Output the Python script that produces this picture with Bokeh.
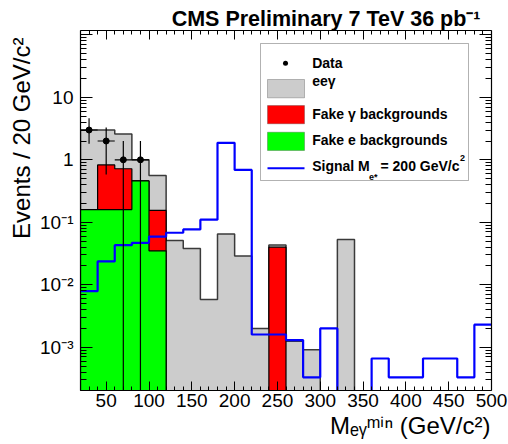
import numpy as np
from bokeh.plotting import figure
from bokeh.models import (Range1d, FixedTicker, LinearAxis, LogAxis, Label, Title,
                          BoxAnnotation, CustomJSTickFormatter)
from bokeh.embed import file_html
from bokeh.resources import INLINE

# ---------------- data ----------------
bin_low = [20, 40, 60, 80, 100, 120, 140, 160, 180, 200, 220, 240,
           260, 280, 300, 320, 340, 360, 380, 400, 420, 440, 460, 480]
bin_width = 20
eeg = [2.84, 2.17, 1.88, 0.54, 0.405, 0.051, 0.038, 0.0058, 0.065, 0.029, 0.002, 0.0035,
       0.00125, 0.00091, 0.0, 0.053, 0, 0, 0, 0, 0, 0, 0, 0]
fake_gamma = [0.0, 0.67, 0.56, 0.0, 0.12, 0, 0, 0, 0, 0, 0, 0.040,
              0, 0, 0, 0, 0, 0, 0, 0, 0, 0, 0, 0]
fake_e = [0.16, 0.16, 0.16, 0.46, 0.035, 0, 0, 0, 0, 0, 0, 0,
          0, 0, 0, 0, 0, 0, 0, 0, 0, 0, 0, 0]
signal = [0.0079, 0.0236, 0.043, 0.047, 0.059, 0.068, 0.077, 0.11, 1.87, 0.69, 0.0016, 0.0016,
          0.0013, 0.00033, 0.0020, 0.0, 0.0, 0.00066, 0.00033, 0.00033, 0.00066, 0.00066, 0.00033, 0.0023]
data_x = [30, 50, 70, 90]
data_y = [3, 2, 1, 1]
data_bar_low = [1.8, 0.58, 0.0, 0.0]
data_bar_high = [4.63, 3.3, 2.0, 2.0]

x_major = [50, 100, 150, 200, 250, 300, 350, 400, 450, 500]
y_major = [1e-3, 1e-2, 1e-1, 1, 10, 100]

FLOOR = 1e-7
FONT = "Liberation Sans"

# ---------------- figure ----------------
p = figure(frame_width=411, frame_height=360, y_axis_type="log",
           x_range=Range1d(20, 500), y_range=Range1d(2.03e-4, 117.5),
           output_backend="svg", toolbar_location=None,
           min_border_left=80, min_border_right=17, min_border_top=30, min_border_bottom=54)
p.xgrid.visible = False
p.ygrid.visible = False
p.outline_line_color = None
p.background_fill_color = "white"
p.border_fill_color = "white"

lo = np.array(bin_low, dtype=float)
hi = lo + bin_width


def step_outline(vals, closed=True):
    xs, ys = ([lo[0]], [FLOOR]) if closed else ([], [])
    for a, b, v in zip(lo, hi, vals):
        v = v if v > 0 else FLOOR
        xs += [a, b]
        ys += [v, v]
    if closed:
        xs.append(hi[-1])
        ys.append(FLOOR)
    return xs, ys


e_arr = np.array(fake_e)
g_arr = np.array(fake_gamma)
total = np.array(eeg) + g_arr + e_arr
red_top = g_arr + e_arr

xs, ys = step_outline(total)
p.patch(xs, ys, fill_color="#cccccc", line_color="#3a3a3a", line_width=1.5)
xs, ys = step_outline(red_top)
p.patch(xs, ys, fill_color="#ff0000", line_color="black", line_width=1.2)
xs, ys = step_outline(e_arr)
p.patch(xs, ys, fill_color="#00ff00", line_color="black", line_width=1.2)

xs, ys = step_outline(signal, closed=False)
p.line(xs, ys, line_color="#0000ff", line_width=2.2)

dx = np.array(data_x, dtype=float)
dl = np.where(np.array(data_bar_low) > 0, data_bar_low, 1e-9)
p.segment(x0=dx, x1=dx, y0=dl, y1=data_bar_high, line_color="black", line_width=1.2)
p.segment(x0=dx - bin_width / 2, x1=dx + bin_width / 2, y0=data_y, y1=data_y,
          line_color="black", line_width=1.2)
p.scatter(dx, data_y, size=6, color="black")

# ---------------- axes ----------------
x_minor = [v for v in range(20, 501, 10) if v not in x_major]
y_minor = [k * 10.0 ** d for d in range(-4, 3) for k in range(2, 10)]
xt = FixedTicker(ticks=x_major, minor_ticks=x_minor)
yt = FixedTicker(ticks=y_major, minor_ticks=y_minor)

ylabfmt = CustomJSTickFormatter(code="""
const e = Math.round(Math.log10(tick));
if (e == 0) return "1";
if (e == 1) return "10";
if (e == -1) return "10\u207b\u00b9";
if (e == -2) return "10\u207b\u00b2";
if (e == -3) return "10\u207b\u00b3";
return "";
""")
blankfmt = CustomJSTickFormatter(code='return "";')

bottom_ax = p.below[0]
left_ax = p.left[0]
bottom_ax.ticker = xt
left_ax.ticker = yt
left_ax.formatter = ylabfmt

top_ax = LinearAxis(ticker=xt, formatter=blankfmt)
right_ax = LogAxis(ticker=yt, formatter=blankfmt)
p.add_layout(top_ax, "above")
p.add_layout(right_ax, "right")

for ax in [bottom_ax, top_ax]:
    ax.major_tick_in = 9
    ax.major_tick_out = 0
    ax.minor_tick_in = 4
    ax.minor_tick_out = 0
for ax in [left_ax, right_ax]:
    ax.major_tick_in = 12
    ax.major_tick_out = 0
    ax.minor_tick_in = 6
    ax.minor_tick_out = 0
for ax in [bottom_ax, top_ax, left_ax, right_ax]:
    ax.axis_line_color = "black"
    ax.axis_line_width = 1.2
    ax.major_tick_line_color = "black"
    ax.minor_tick_line_color = "black"
    ax.major_label_text_font = FONT
    ax.major_label_text_font_size = "19px"
    ax.major_label_text_color = "black"
for ax in [top_ax, right_ax]:
    ax.major_label_text_font_size = "1px"
    ax.major_label_standoff = 0
bottom_ax.major_label_standoff = 3
left_ax.major_label_standoff = 7

# ---------------- titles (side panels, not clipped) ----------------
p.add_layout(Title(text="CMS Preliminary 7 TeV  36 pb\u207b\u00b9", align="right", offset=5,
                   standoff=0, text_font=FONT, text_font_size="21.5px", text_font_style="bold",
                   text_color="black"), "above")
p.add_layout(Title(text="Events / 20 GeV/c\u00b2", align="right", offset=7,
                   standoff=6, text_font=FONT, text_font_size="24px", text_font_style="normal",
                   text_color="black"), "left")
p.add_layout(Title(text="M\u2091\u1d67\u1d50\u2071\u207f (GeV/c\u00b2)", align="right", offset=1,
                   standoff=0, text_font=FONT, text_font_size="24px", text_font_style="normal",
                   text_color="black"), "below")

# ---------------- legend (screen units relative to the frame) ----------------
def lab(x, y, text, size, bold=False, align="left", baseline="middle"):
    p.add_layout(Label(x=x, y=y, x_units="screen", y_units="screen", text=text,
                       text_font=FONT, text_font_size=f"{size}px",
                       text_font_style="bold" if bold else "normal",
                       text_align=align, text_baseline=baseline, text_color="black"))


def sbox(left, right, bottom, top, **kw):
    p.add_layout(BoxAnnotation(left=left, right=right, bottom=bottom, top=top,
                               left_units="screen", right_units="screen",
                               bottom_units="screen", top_units="screen", **kw))

sbox(180, 388, 210, 347, fill_color="white", fill_alpha=1.0, line_color="black", line_width=1)
sbox(202.5, 207.5, 324.8, 329.8, border_radius=3, fill_color="black", fill_alpha=1.0, line_color=None)
for (b, t, fc) in [(292.7, 311, "#cccccc"), (266.7, 285, "#ff0000"), (240, 258.3, "#00ff00")]:
    sbox(187, 224, b, t, fill_color=fc, fill_alpha=1.0, line_color="#333333", line_width=1)
sbox(187, 224, 221.3, 223.3, fill_color="#0000ff", fill_alpha=1.0, line_color=None)

lab(231.7, 327.3, "Data", 14, bold=True)
lab(231.7, 310, "ee\u03b3", 14, bold=True)
lab(231.7, 276.7, "Fake \u03b3 backgrounds", 14, bold=True)
lab(231.7, 251, "Fake e backgrounds", 14, bold=True)
lab(231.7, 225, "Signal M", 14, bold=True)
lab(288.5, 214, "e*", 9, bold=True)
lab(300, 225, "= 200 GeV/c", 14, bold=True)
lab(379.5, 233, "2", 9, bold=True)

with open("out.html", "w", encoding="utf-8") as f:
    f.write(file_html(p, INLINE))
